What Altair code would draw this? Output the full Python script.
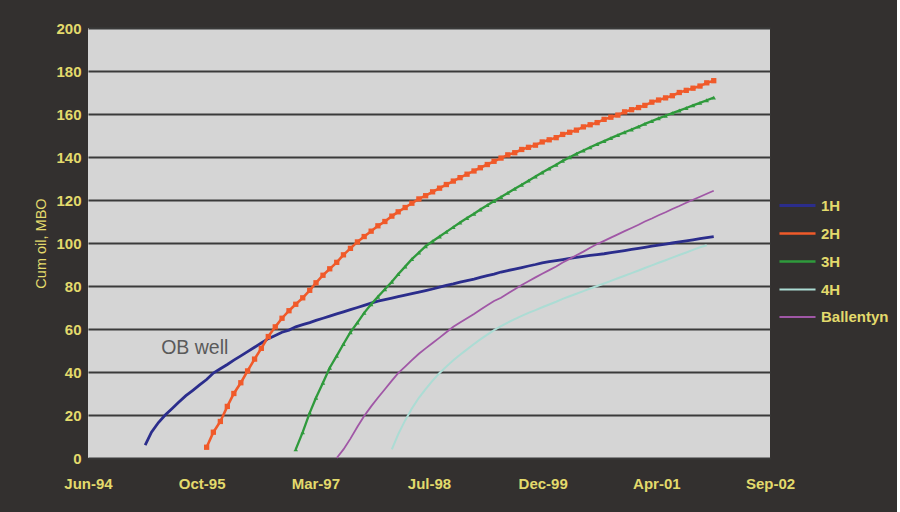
import altair as alt
import pandas as pd

# ---------------- data ----------------
series_names = ["1H", "2H", "3H", "4H", "Ballentyn"]
series_colors = ["#2b2d8c", "#f05a2a", "#2f9a3c", "#acdcd4", "#a057a6"]
series_widths = [2.8, 1.8, 1.8, 1.5, 1.6]

# first month of each series (monthly production points)
start_1H = "1995-02"
start_2H = "1995-11"
start_3H = "1996-12"
start_4H = "1998-02"
start_Bal = "1997-06"

vals_1H = [6, 12, 16.5, 20, 23, 26, 29, 31.5, 34, 36.5, 39.5, 41.5, 43.5, 45.5, 47.5, 49.5,
           51.5, 53.5, 55.5, 57, 58.5, 59.5, 61, 62, 63, 64, 65, 66, 67, 68, 69, 70, 71, 72,
           73, 73.7, 74.4, 75.1, 75.8, 76.5, 77.2, 77.9, 78.6, 79.5, 80.3, 81, 81.8, 82.5,
           83.2, 84, 84.8, 85.5, 86.5, 87.2, 87.9, 88.6, 89.3, 90, 90.8, 91.3, 91.8, 92.3,
           92.8, 93.3, 93.8, 94.2, 94.6, 95, 95.5, 96, 96.5, 97, 97.5, 98, 98.5, 99, 99.5,
           100, 100.5, 101, 101.5, 102, 102.5, 103]

vals_2H = [5, 12, 17, 24, 30, 35, 40.5, 46, 51, 56.5, 61, 65, 68.5, 71.5, 74.5, 78, 81.5,
           85, 88, 91, 94.5, 97.5, 100.5, 103, 105.5, 108, 110, 112.5, 114.5, 116.5, 118.5,
           120.5, 122, 123.8, 125.5, 127.2, 128.8, 130.4, 132, 133.5, 135, 136.5, 138,
           139.5, 141, 142, 143.5, 144.5, 145.5, 147, 148, 149, 150.5, 151.5, 152.5, 154,
           155, 156, 157.5, 158.5, 159.5, 161, 162, 163, 164, 165.5, 166.5, 167.5, 168.5,
           170, 171, 172, 173, 174.5, 175.5]

vals_3H = [4, 12, 21, 28, 35, 42, 47.5, 53, 58.5, 63, 67.5, 71.5, 75, 78.5, 82, 85.5, 89,
           92.5, 95.5, 98.5, 100.8, 103, 105.2, 107.4, 109.5, 111.6, 113.6, 115.6, 117.6,
           119.5, 121.4, 123.3, 125.2, 127.1, 129, 130.9, 132.8, 134.6, 136.4, 138.2,
           139.9, 141.5, 143, 144.5, 146, 147.4, 148.8, 150.2, 151.5, 152.8, 154.1, 155.4,
           156.7, 158, 159.2, 160.4, 161.6, 162.8, 164, 165.2, 166.4, 167.6]

vals_4H = [4, 11, 17.5, 23, 28, 32, 36, 39.5, 42.5, 45.5, 48, 50.5, 53, 55.2, 57.4, 59.5,
           61.3, 63, 64.6, 66.1, 67.5, 68.8, 70.1, 71.4, 72.7, 74, 75.2, 76.4, 77.6, 78.8,
           80, 81.2, 82.4, 83.6, 84.8, 86, 87.2, 88.4, 89.6, 90.8, 92, 93.2, 94.4, 95.6,
           96.8, 98, 99]

vals_Bal = [0, 4, 9, 14.5, 19.5, 24, 28, 32, 36, 39.5, 42.5, 45.5, 48.5, 51, 53.5, 56,
            58.5, 61, 63, 65, 67, 69, 71, 73, 74.5, 76.5, 78.5, 80.5, 82.2, 84, 85.7, 87.4,
            89.1, 90.9, 92.6, 94.3, 96, 97.8, 99.5, 101, 102.5, 104, 105.5, 107, 108.5, 110,
            111.4, 112.9, 114.3, 115.8, 117.2, 118.7, 120.1, 121.5, 122.9, 124.3]

tick_dates = [(1994, 6, 1), (1995, 10, 19), (1997, 3, 7), (1998, 7, 25),
              (1999, 12, 12), (2001, 4, 30), (2002, 9, 17)]
y_ticks = [0, 20, 40, 60, 80, 100, 120, 140, 160, 180, 200]

annotation_text = ["OB well"]
annotation_date = ["1995-04-22"]
annotation_value = [51]

# ---------------- build table ----------------
def build(name, start, vals):
    dates = pd.date_range(start + "-01", periods=len(vals), freq="MS") + pd.Timedelta(days=9)
    return pd.DataFrame({"series": name, "date": dates.strftime("%Y-%m-%dT00:00:00"), "value": vals})

df = pd.concat([
    build("1H", start_1H, vals_1H),
    build("2H", start_2H, vals_2H),
    build("3H", start_3H, vals_3H),
    build("4H", start_4H, vals_4H),
    build("Ballentyn", start_Bal, vals_Bal),
], ignore_index=True)

ann = pd.DataFrame({"text": annotation_text, "date": annotation_date, "value": annotation_value})

YELLOW = "#e3da6c"
BG = "#33302f"
PLOT_BG = "#d5d5d5"
FONT = "Liberation Sans"

def dt(t):
    return alt.DateTime(year=t[0], month=t[1], date=t[2])

x_scale = alt.Scale(domain=[dt(tick_dates[0]), dt(tick_dates[-1])])
y_scale = alt.Scale(domain=[0, 200], nice=False)
color_scale = alt.Scale(domain=series_names, range=series_colors)

x_enc = alt.X("date:T", scale=x_scale, title=None,
              axis=alt.Axis(values=[dt(t) for t in tick_dates], format="%b-%y",
                            grid=False, ticks=False, domain=False,
                            labelColor=YELLOW, labelFont=FONT,
                            labelFontSize=15, labelFontWeight="bold",
                            labelPadding=18, labelFlush=False))
y_enc = alt.Y("value:Q", scale=y_scale, title="Cum oil, MBO",
              axis=alt.Axis(values=y_ticks, grid=True, gridColor="#3a3a3a",
                            gridWidth=2, ticks=False, domain=False,
                            labelColor=YELLOW, labelFont=FONT,
                            labelFontSize=15, labelFontWeight="bold",
                            labelPadding=7, titleColor=YELLOW,
                            titleFont=FONT, titleFontSize=14.5,
                            titleFontWeight="normal", titlePadding=7))

base = alt.Chart(df)

lines = base.mark_line().encode(
    x=x_enc, y=y_enc,
    color=alt.Color("series:N", scale=color_scale, sort=series_names,
                    legend=alt.Legend(title=None, orient="none", legendX=690, legendY=158,
                                      symbolType="stroke", symbolSize=1300,
                                      symbolStrokeWidth=2.5, labelColor=YELLOW,
                                      labelFont=FONT, labelFontSize=15,
                                      labelFontWeight="bold", rowPadding=0,
                                      labelOffset=4)),
    strokeWidth=alt.StrokeWidth("series:N", scale=alt.Scale(domain=series_names, range=series_widths),
                                legend=None),
)

pts2 = base.transform_filter(alt.datum.series == "2H").mark_point(
    shape="square", filled=True, size=28, opacity=1).encode(
    x="date:T", y="value:Q",
    color=alt.Color("series:N", scale=color_scale, legend=None))

pts3 = base.transform_filter(alt.datum.series == "3H").mark_point(
    shape="triangle-up", filled=True, size=20, opacity=1).encode(
    x="date:T", y="value:Q",
    color=alt.Color("series:N", scale=color_scale, legend=None))

label = alt.Chart(ann).mark_text(align="left", baseline="middle", fontSize=19.5,
                                 font=FONT, color="#5a5a5a").encode(
    x="date:T", y="value:Q", text="text:N")

chart = alt.layer(lines, pts2, pts3, label).properties(
    width=682, height=430,
    autosize=alt.AutoSizeParams(type="none"),
    padding={"left": 88, "top": 28, "right": 127, "bottom": 54},
    background=BG,
).configure_view(fill=PLOT_BG, stroke=None)

chart.save("out.html", embed_options={"renderer": "svg", "actions": False})
